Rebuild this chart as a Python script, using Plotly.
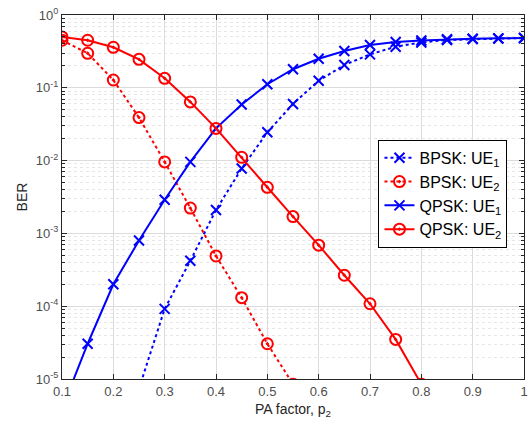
import plotly.graph_objects as go

# PA factor (x)
p2 = [0.1, 0.15, 0.2, 0.25, 0.3, 0.35, 0.4, 0.45, 0.5, 0.55, 0.6, 0.65, 0.7, 0.75, 0.8, 0.85, 0.9, 0.95, 1.0]

# BPSK UE1 (dotted blue x) -- starts at 0.25 (below axis)
bpsk_ue1_x = [0.25, 0.3, 0.35, 0.4, 0.45, 0.5, 0.55, 0.6, 0.65, 0.7, 0.75, 0.8, 0.85, 0.9, 0.95, 1.0]
bpsk_ue1 = [7.4e-6, 9.2e-5, 4.2e-4, 2.1e-3, 7.8e-3, 0.0245, 0.060, 0.125, 0.206, 0.288, 0.367, 0.42, 0.454, 0.467, 0.476, 0.483]

# BPSK UE2 (dotted red o)
bpsk_ue2_x = [0.1, 0.15, 0.2, 0.25, 0.3, 0.35, 0.4, 0.45, 0.5, 0.55]
bpsk_ue2 = [0.45, 0.298, 0.128, 0.039, 0.0096, 2.23e-3, 4.9e-4, 1.31e-4, 3.05e-5, 8.5e-6]

# QPSK UE1 (solid blue x)
qpsk_ue1_x = p2
qpsk_ue1 = [3.9e-6, 3.05e-5, 2.0e-4, 8.0e-4, 2.9e-3, 9.6e-3, 0.0277, 0.059, 0.112, 0.18, 0.251, 0.32, 0.387, 0.426, 0.446, 0.464, 0.473, 0.478, 0.483]

# QPSK UE2 (solid red o)
qpsk_ue2_x = [0.1, 0.15, 0.2, 0.25, 0.3, 0.35, 0.4, 0.45, 0.5, 0.55, 0.6, 0.65, 0.7, 0.75, 0.8]
qpsk_ue2 = [0.5, 0.45, 0.36, 0.246, 0.135, 0.064, 0.0277, 0.0111, 0.0043, 1.7e-3, 6.9e-4, 2.66e-4, 1.08e-4, 3.5e-5, 8.5e-6]

x_ticks = [0.1, 0.2, 0.3, 0.4, 0.5, 0.6, 0.7, 0.8, 0.9, 1.0]
x_tick_text = ["0.1", "0.2", "0.3", "0.4", "0.5", "0.6", "0.7", "0.8", "0.9", "1"]
y_ticks = [1e-5, 1e-4, 1e-3, 1e-2, 1e-1, 1e0]
y_tick_text = ["10<sup>-5</sup>", "10<sup>-4</sup>", "10<sup>-3</sup>", "10<sup>-2</sup>", "10<sup>-1</sup>", "10<sup>0</sup>"]

BLUE = "#0000FF"
RED = "#FF0000"
AX = "#262626"

fig = go.Figure()
fig.add_trace(go.Scatter(x=bpsk_ue1_x, y=bpsk_ue1, mode="lines+markers", name="BPSK: UE<sub>1</sub>",
                         line=dict(color=BLUE, width=2, dash="dot"),
                         marker=dict(symbol="x-thin-open", size=10, line=dict(color=BLUE, width=2))))
fig.add_trace(go.Scatter(x=bpsk_ue2_x, y=bpsk_ue2, mode="lines+markers", name="BPSK: UE<sub>2</sub>",
                         line=dict(color=RED, width=2, dash="dot"),
                         marker=dict(symbol="circle-open-dot", size=11, color=RED, line=dict(color=RED, width=2))))
fig.add_trace(go.Scatter(x=qpsk_ue1_x, y=qpsk_ue1, mode="lines+markers", name="QPSK: UE<sub>1</sub>",
                         line=dict(color=BLUE, width=2),
                         marker=dict(symbol="x-thin-open", size=10, line=dict(color=BLUE, width=2))))
fig.add_trace(go.Scatter(x=qpsk_ue2_x, y=qpsk_ue2, mode="lines+markers", name="QPSK: UE<sub>2</sub>",
                         line=dict(color=RED, width=2),
                         marker=dict(symbol="circle-open-dot", size=11, color=RED, line=dict(color=RED, width=2))))

fig.update_layout(
    width=532, height=428,
    margin=dict(l=62, r=4, t=15, b=49),
    paper_bgcolor="white", plot_bgcolor="white",
    font=dict(family="Liberation Sans, Arial, sans-serif", size=12, color=AX),
    legend=dict(x=0.685, y=0.657, xanchor="left", yanchor="top",
                bgcolor="white", bordercolor="#000000", borderwidth=1,
                font=dict(size=16, color="#000000"), tracegroupgap=0),
    showlegend=True,
)
fig.update_xaxes(
    range=[0.1, 1.0], tickvals=x_ticks, ticktext=x_tick_text,
    showline=True, linecolor=AX, linewidth=1, mirror="allticks",
    ticks="inside", ticklen=5, tickcolor=AX,
    showgrid=True, gridcolor="#dcdcdc", gridwidth=1, zeroline=False,
    title=dict(text="PA factor, p<sub>2</sub>", font=dict(size=14, color=AX), standoff=6),
    tickfont=dict(size=13, color="#4d4d4d"),
)
fig.update_yaxes(
    type="log", range=[-5, 0], tickvals=y_ticks, ticktext=y_tick_text,
    showline=True, linecolor=AX, linewidth=1, mirror="allticks",
    ticks="inside", ticklen=5, tickcolor=AX,
    showgrid=True, gridcolor="#dcdcdc", gridwidth=1, zeroline=False,
    minor=dict(dtick="D1", ticks="inside", ticklen=3, tickcolor=AX,
               showgrid=True, gridcolor="#e6e6e6", griddash="dot", gridwidth=1),
    title=dict(text="BER", font=dict(size=14, color=AX), standoff=4),
    tickfont=dict(size=13, color="#4d4d4d"),
)

fig.write_html("out.html")
